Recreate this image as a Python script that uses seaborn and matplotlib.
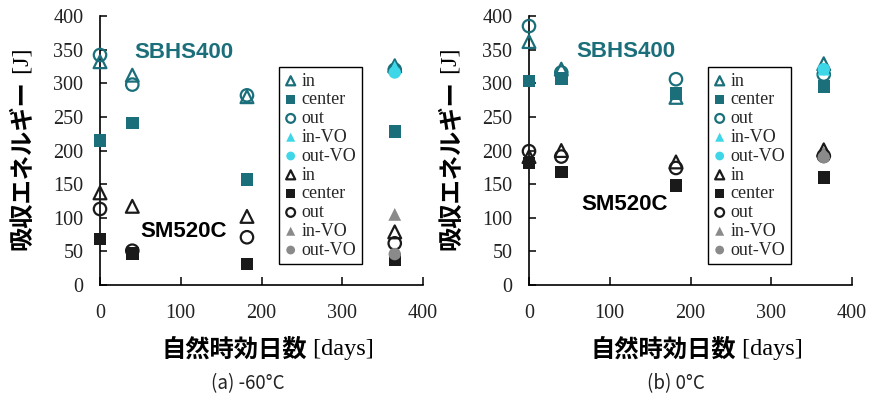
import matplotlib
matplotlib.use("Agg")
import matplotlib.pyplot as plt
import seaborn as sns
import pandas as pd

# Aging days at which the specimens were tested
days = [0, 40, 182, 365]

# Absorbed energy [J] at -60°C
sbhs_m60 = {
    "in": [332, 312, 280, 326],
    "center": [215, 241, 157, 228],
    "out": [342, 298, 282, 320],
    "in-VO": [None, None, None, 324],
    "out-VO": [None, None, None, 316],
}
sm_m60 = {
    "in": [137, 117, 102, 79],
    "center": [68, 47, 31, 38],
    "out": [113, 51, 71, 62],
    "in-VO": [None, None, None, 105],
    "out-VO": [None, None, None, 46],
}

# Absorbed energy [J] at 0°C
sbhs_0 = {
    "in": [362, 321, 279, 329],
    "center": [303, 307, 285, 295],
    "out": [385, 316, 306, 313],
    "in-VO": [None, None, None, 321],
    "out-VO": [None, None, None, 321],
}
sm_0 = {
    "in": [191, 200, 183, 201],
    "center": [181, 168, 148, 160],
    "out": [199, 191, 174, 192],
    "in-VO": [None, None, None, 197],
    "out-VO": [None, None, None, 190],
}

series_names = ["in", "center", "out", "in-VO", "out-VO"]
panel_titles = ["(a) -60°C", "(b) 0°C"]

TEAL = "#1a6f7a"
CYAN = "#3fd6e8"
BLACK = "#1a1a1a"
GREY = "#8a8a8a"

sns.set_theme(style="white")
plt.rcParams["font.family"] = ["Liberation Serif", "DejaVu Serif"]
plt.rcParams["axes.unicode_minus"] = False

# marker, filled?, which color (main / vo)
styles = {
    "in": ("^", False, "main"),
    "center": ("s", True, "main"),
    "out": ("o", False, "main"),
    "in-VO": ("^", True, "vo"),
    "out-VO": ("o", True, "vo"),
}

fig = plt.figure(figsize=(8.71, 3.96), dpi=100)
ax_w = 323 / 871
ax_h = 269 / 396
ax_b = (396 - 285) / 396
lefts = [100 / 871, 529 / 871]

panels = [(sbhs_m60, sm_m60), (sbhs_0, sm_0)]
sbhs_pos = [(43, 346), (59, 347)]
sm_pos = [(50, 80), (65, 119)]
ylab_x = [22.5, 451]
xlab_split = [307, 736]
cap_x = [248, 676]

for i, (sbhs, sm) in enumerate(panels):
    ax = fig.add_axes([lefts[i], ax_b, ax_w, ax_h])
    handles = []
    for group, main_c, vo_c in [(sbhs, TEAL, CYAN), (sm, BLACK, GREY)]:
        for name in series_names:
            mk, filled, ck = styles[name]
            c = main_c if ck == "main" else vo_c
            df = pd.DataFrame({"day": days, "J": group[name]}).dropna()
            if filled:
                kw = dict(facecolor=c, edgecolor="none", linewidth=0)
            else:
                kw = dict(facecolor="none", edgecolor=c, linewidth=1.6)
            sz = 80 if mk == "s" else (85 if mk == "^" else 80)
            sns.scatterplot(data=df, x="day", y="J", marker=mk, s=sz, ax=ax,
                            legend=False, zorder=3, clip_on=False, **kw)
            h = ax.scatter([], [], marker=mk, s=sz * 0.5, **kw)
            handles.append((h, name))

    ax.set_xlim(0, 400)
    ax.set_ylim(0, 400)
    ax.set_xticks([0, 100, 200, 300, 400])
    ax.set_yticks(range(0, 401, 50))
    ax.set_xlabel("")
    ax.set_ylabel("")
    for s in ["top", "right"]:
        ax.spines[s].set_visible(False)
    for s in ["left", "bottom"]:
        ax.spines[s].set_color("black")
        ax.spines[s].set_linewidth(1.2)
    ax.tick_params(axis="both", direction="in", length=5, width=1.1,
                   colors="black", labelsize=14.5)
    ax.tick_params(axis="x", pad=14, length=6, bottom=True)
    ax.tick_params(axis="y", pad=12, left=True)
    for lab in ax.get_xticklabels() + ax.get_yticklabels():
        lab.set_color("#222222")

    ax.text(*sbhs_pos[i], "SBHS400", color=TEAL, fontsize=16, fontweight="bold",
            family=["Liberation Sans", "DejaVu Sans"], va="center", ha="left")
    ax.text(*sm_pos[i], "SM520C", color="black", fontsize=16, fontweight="bold",
            family=["Liberation Sans", "DejaVu Sans"], va="center", ha="left")

    leg = ax.legend([h for h, _ in handles], [n for _, n in handles],
                    loc="upper left", bbox_to_anchor=(0.554, 0.81),
                    borderaxespad=0, fontsize=13, frameon=True, fancybox=False,
                    edgecolor="black", framealpha=1, handlelength=0.7,
                    handletextpad=0.25, labelspacing=0.1, borderpad=0.3)
    leg.get_frame().set_linewidth(1.0)

    # y label: bold Japanese text followed by the serif unit
    split_y = 1 - 80 / 396
    fig.text(ylab_x[i] / 871, split_y, "吸収エネルギー", rotation=90,
             family=["Noto Sans CJK JP"], fontweight="bold", fontsize=17.5,
             ha="center", va="top", color="black")
    fig.text(ylab_x[i] / 871, split_y, " [J]", rotation=90,
             family=["Liberation Serif"], fontsize=17.5,
             ha="center", va="bottom", color="black")

    # x label
    xl_y = 1 - 350 / 396
    fig.text(xlab_split[i] / 871, xl_y, "自然時効日数", family=["Noto Sans CJK JP"],
             fontweight="bold", fontsize=17.5, ha="right", va="center", color="black")
    fig.text(xlab_split[i] / 871, xl_y, " [days]", family=["Liberation Serif"],
             fontsize=17.5, ha="left", va="center", color="black")

    # panel caption
    fig.text(cap_x[i] / 871, 1 - 384 / 396, panel_titles[i],
             family=["Noto Sans CJK JP", "DejaVu Sans"], fontsize=13.5,
             ha="center", va="center", color="#222222")

fig.savefig("out.png", dpi=100)
